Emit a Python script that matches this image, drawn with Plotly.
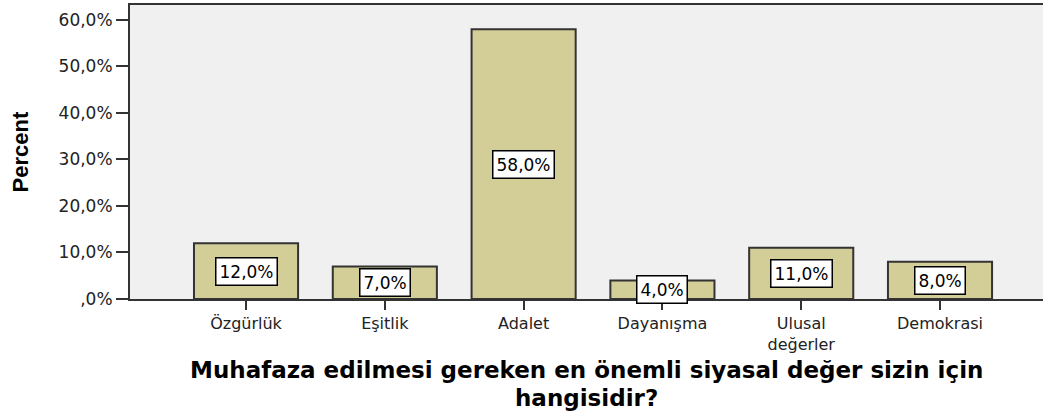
import plotly.graph_objects as go

categories = ["Özgürlük", "Eşitlik", "Adalet", "Dayanışma", "Ulusal<br>değerler", "Demokrasi"]
percents = [12.0, 7.0, 58.0, 4.0, 11.0, 8.0]
y_tickvals = [0, 10, 20, 30, 40, 50, 60]
y_ticktext = [",0%", "10,0%", "20,0%", "30,0%", "40,0%", "50,0%", "60,0%"]
x_title_lines = ["Muhafaza edilmesi gereken en önemli siyasal değer sizin için", "hangisidir?"]
y_title = "Percent"

def fmt(v):
    return f"{v:.1f}%".replace(".", ",")

fig = go.Figure()
fig.add_trace(go.Bar(
    x=list(range(len(categories))),
    y=percents,
    marker=dict(color="#D3CE97", line=dict(color="#333333", width=2)),
    width=0.75,
    hoverinfo="skip",
))

for i, v in enumerate(percents):
    fig.add_annotation(
        x=i, y=v / 2, xref="x", yref="y",
        text=fmt(v), showarrow=False,
        font=dict(family="DejaVu Sans", size=17, color="#000"),
        bgcolor="white", bordercolor="#000", borderwidth=1.5, borderpad=3,
    )

for line, ypos in zip(x_title_lines, [-0.243, -0.337]):
    fig.add_annotation(
        x=0.5, y=ypos, xref="paper", yref="paper",
        xanchor="center", yanchor="middle", showarrow=False,
        text="<b>" + line + "</b>",
        font=dict(family="DejaVu Sans", size=23, color="#000"),
    )

fig.add_annotation(
    x=-0.12, y=0.5, xref="paper", yref="paper",
    xanchor="center", yanchor="middle", showarrow=False, textangle=-90,
    text="<b>" + y_title + "</b>",
    font=dict(family="Liberation Sans, Arial", size=22, color="#000"),
)

fig.update_layout(
    width=1043, height=412,
    margin=dict(l=130, r=0, t=5, b=113),
    paper_bgcolor="white",
    plot_bgcolor="#F0F0F0",
    showlegend=False,
    bargap=0.25,
    xaxis=dict(
        range=[-0.836, 5.742],
        tickmode="array", tickvals=list(range(len(categories))), ticktext=categories,
        ticks="outside", ticklen=9, tickwidth=2, tickcolor="#333",
        showgrid=False, zeroline=False,
        showline=True, linecolor="#333", linewidth=2, mirror=True,
        tickfont=dict(family="DejaVu Sans", size=16, color="#222"),
    ),
    yaxis=dict(
        range=[0, 63.2],
        tickmode="array", tickvals=y_tickvals, ticktext=y_ticktext,
        ticks="outside", ticklen=12, tickwidth=2, tickcolor="#333",
        showgrid=False, zeroline=False,
        showline=True, linecolor="#333", linewidth=2, mirror=False,
        tickfont=dict(family="DejaVu Sans", size=17, color="#222"),
    ),
)

fig.write_html("out.html", config={"displayModeBar": False},
               post_script="document.body.style.margin='0px';")
